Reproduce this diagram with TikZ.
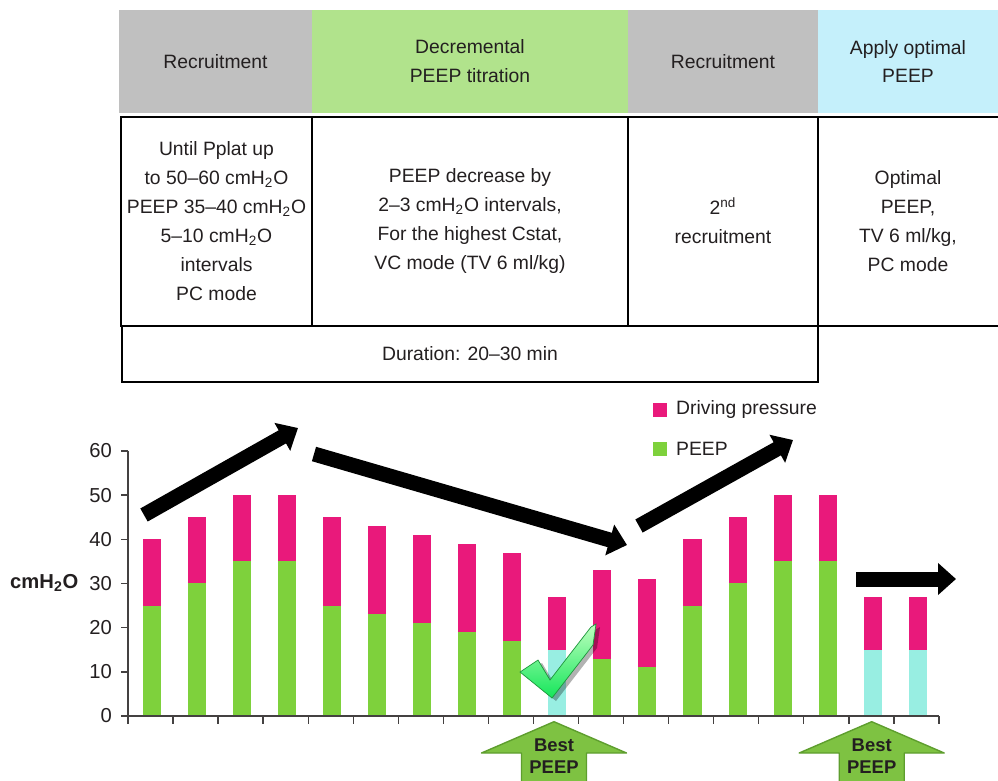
\documentclass[tikz,border=0pt]{standalone}
\usepackage{fontspec}
\setmainfont{Liberation Sans}
\usetikzlibrary{arrows.meta}
\definecolor{hdgray}{RGB}{192,192,192}
\definecolor{hdgreen}{RGB}{177,227,140}
\definecolor{hdblue}{RGB}{197,240,251}
\definecolor{dpink}{RGB}{233,25,123}
\definecolor{pgreen}{RGB}{126,209,60}
\definecolor{bcyan}{RGB}{152,238,226}
\definecolor{bgreen}{RGB}{126,194,66}
\definecolor{bedge}{RGB}{94,158,46}
\definecolor{ink}{RGB}{35,31,32}
\tikzset{
	cell/.style={draw=black, line width=1.4pt},
	txt/.style={align=center, text=ink, font=\fontsize{11}{16.5}\selectfont},
	besttxt/.style={align=center, text=ink, font=\bfseries\fontsize{10.5}{12.4}\selectfont},
	axisline/.style={draw=ink!85, line width=0.8pt},
	bigarrow/.style={line width=0.3cm, -{Triangle[length=0.36cm, width=0.62cm]}},
	bestarrow/.style={fill=bgreen, draw=bedge, line width=0.8pt, line join=round}
}
\begin{document}
\begin{tikzpicture}[x=0.02cm, y=-0.02cm]
		\useasboundingbox(0, 0)rectangle(998, 781);
		\fill[hdgray](119, 10)rectangle(312, 113);
		\fill[hdgreen](312, 10)rectangle(628, 113);
		\fill[hdgray](628, 10)rectangle(818, 113);
		\fill[hdblue](818, 10)rectangle(998, 113);
		\node[txt](h1)at(215.5, 61.5){Recruitment};
		\node[txt](h2)at(470, 61.5){Decremental\\PEEP titration};
		\node[txt](h3)at(723, 61.5){Recruitment};
		\node[txt](h4)at(908, 61.5){Apply optimal\\PEEP};
		\draw[cell](998, 117)--(121, 117)--(121, 326)--(998, 326);
		\draw[cell](312, 117)--(312, 326)(628, 117)--(628, 326);
		\draw[cell](818, 117)--(818, 382)--(122, 382)--(122, 326);
		\node[txt](b1)at(216.5, 221){Until Pplat up\\to 50--60 cmH\textsubscript{2}O\\PEEP 35--40 cmH\textsubscript{2}O\\5--10 cmH\textsubscript{2}O\\intervals\\PC mode};
		\node[txt](b2)at(470, 221){PEEP decrease by\\2--3 cmH\textsubscript{2}O intervals,\\For the highest Cstat,\\VC mode (TV 6 ml/kg)};
		\node[txt](b3)at(723, 221){2\textsuperscript{nd}\\recruitment};
		\node[txt](b4)at(908, 221){Optimal\\PEEP,\\TV 6 ml/kg,\\PC mode};
		\node[txt](dur)at(470, 354){Duration: 20--30 min};
		\fill[dpink](653, 403)rectangle(667, 417);
		\node[txt, anchor=west](lg1)at(670, 410){Driving pressure};
		\fill[pgreen](653, 442)rectangle(667, 456);
		\node[txt, anchor=west](lg2)at(670, 449){PEEP};
		\node[txt, font=\bfseries\fontsize{11.5}{14}\selectfont, anchor=west](unit)at(4, 583){cmH\textsubscript{2}O};
		\begin{scope}[shift={(128, 716)}, x=0.9012cm, y=0.0884cm]
			\foreach \i/\p/\t/\c in {1/25/40/pgreen, 2/30/45/pgreen, 3/35/50/pgreen, 4/35/50/pgreen, 5/25/45/pgreen, 6/23/43/pgreen, 7/21/41/pgreen, 8/19/39/pgreen, 9/17/37/pgreen, 10/15/27/bcyan, 11/13/33/pgreen, 12/11/31/pgreen, 13/25/40/pgreen, 14/30/45/pgreen, 15/35/50/pgreen, 16/35/50/pgreen, 17/15/27/bcyan, 18/15/27/bcyan}{
				\fill[\c](\i-0.67, 0)rectangle(\i-0.27, \p);
				\fill[dpink](\i-0.67, \p)rectangle(\i-0.27, \t);
			}
			\draw[axisline](0, 60)--(0, 0)--(18, 0);
			\foreach \v in {0, 10, ..., 60}{
				\draw[axisline](0, \v)--++(-0.15cm, 0);
				\node[txt, font=\fontsize{11.5}{14}\selectfont, anchor=east](y\v)at([xshift=-0.2cm]0, \v){\v};
			}
			\foreach \i in {0, ..., 18}
				\draw[axisline](\i, 0)--++(0, -0.15cm);
		\end{scope}
		\coordinate(u1)at(144, 515);
		\coordinate(u2)at(298, 428);
		\coordinate(d1)at(314, 454);
		\coordinate(d2)at(627, 545);
		\coordinate(r1)at(639, 526);
		\coordinate(r2)at(793, 440);
		\coordinate(f1)at(856, 579);
		\coordinate(f2)at(956, 579);
		\draw[bigarrow](u1)--(u2);
		\draw[bigarrow](d1)--(d2);
		\draw[bigarrow](r1)--(r2);
		\draw[bigarrow](f1)--(f2);
		\fill[black, opacity=0.3](524, 675)--(542, 663)--(554, 683)--(595, 630)--(600, 627)--(597, 648)--(556, 701)--cycle;
		\shade[top color=green!25!white, bottom color={rgb,255:red,20;green,230;blue,90}, draw={rgb,255:red,30;green,150;blue,60}, line width=0.4pt](520, 672)--(538, 660)--(550, 680)--(591, 627)--(596, 624)--(593, 645)--(552, 698)--cycle;
		\foreach \x/\n in {554/1, 871.7/2}{
			\draw[bestarrow](\x-32.5, 790)--(\x-32.5, 753)--(\x-72.5, 753)--(\x, 721.7)--(\x+72.5, 753)--(\x+32.5, 753)--(\x+32.5, 790)--cycle;
			\node[besttxt](best\n)at(\x, 756){Best\\PEEP};
		}
	\end{tikzpicture}
\end{document}
